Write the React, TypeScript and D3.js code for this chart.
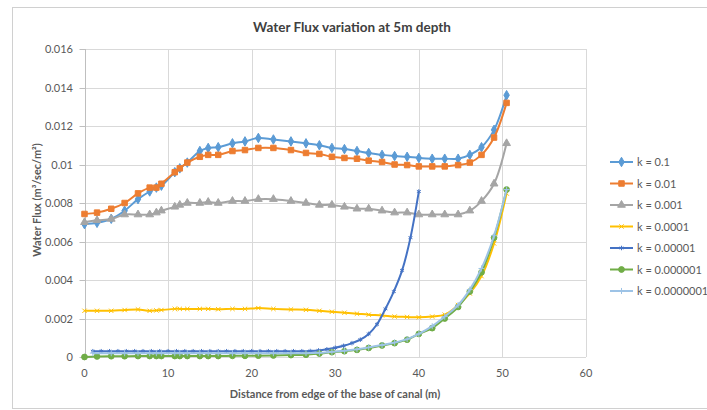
import React, { useEffect, useRef } from 'react';
import * as d3 from 'd3';

// x positions (m) of the nodes
const xMain = [0, 1.5, 3.2, 4.8, 6.4, 7.8, 8.6, 9.2, 10.8, 11.4, 12.3, 13.8, 14.8, 16, 17.7, 19.2, 20.8, 22.6, 24.7, 26.5, 28.1, 29.6, 31.1, 32.6, 34, 35.6, 37.1, 38.6, 40, 41.6, 43.1, 44.7, 46.1, 47.5, 49, 50.5];
const xDense = [1, 2, 3, 4, 5, 6, 7, 8, 9, 10, 11, 12, 13, 14, 15, 16, 17, 18, 19, 20, 21, 22, 23, 24, 25, 26, 27, 28, 29, 30, 31, 32, 33, 34, 35, 36, 37, 38, 39, 40];
const xLight = [1, 3.2, 4.8, 6.4, 7.8, 8.6, 9.2, 10.8, 11.4, 12.3, 13.8, 14.8, 16, 17.7, 19.2, 20.8, 22.6, 24.7, 26.5, 28.1, 29.6, 31.1, 32.6, 34, 35.6, 37.1, 38.6, 40, 41.6, 43.1, 44.7, 46.1, 47.5, 49, 50.5];

const k1 = [0.0069, 0.00697, 0.00718, 0.0076, 0.0082, 0.0086, 0.0088, 0.0089, 0.0096, 0.0098, 0.0101, 0.0107, 0.01086, 0.0109, 0.0111, 0.0112, 0.01138, 0.0113, 0.0112, 0.0111, 0.011, 0.01086, 0.0108, 0.0107, 0.0106, 0.0105, 0.01044, 0.0104, 0.01034, 0.0103, 0.0103, 0.0103, 0.0105, 0.0109, 0.0118, 0.0136];
const k2 = [0.00743, 0.0075, 0.0077, 0.008, 0.0085, 0.0088, 0.0088, 0.009, 0.0096, 0.0098, 0.0101, 0.0104, 0.0105, 0.0105, 0.0107, 0.01075, 0.01086, 0.01086, 0.01075, 0.0106, 0.01055, 0.0104, 0.01034, 0.0103, 0.0102, 0.01013, 0.01, 0.00997, 0.0099, 0.0099, 0.0099, 0.00997, 0.0101, 0.0105, 0.0114, 0.0132];
const k3 = [0.007, 0.0071, 0.00717, 0.0074, 0.0074, 0.0074, 0.0075, 0.0076, 0.0078, 0.0079, 0.008, 0.008, 0.00805, 0.008, 0.0081, 0.0081, 0.0082, 0.0082, 0.0081, 0.008, 0.0079, 0.0079, 0.0078, 0.0077, 0.0077, 0.0076, 0.0075, 0.0075, 0.0074, 0.0074, 0.0074, 0.0074, 0.0076, 0.0081, 0.009, 0.0111];
const k4 = [0.0024, 0.0024, 0.0024, 0.00244, 0.00247, 0.0024, 0.00242, 0.00244, 0.0025, 0.0025, 0.0025, 0.0025, 0.0025, 0.00248, 0.0025, 0.0025, 0.00254, 0.0025, 0.00247, 0.00245, 0.0024, 0.00235, 0.0023, 0.00225, 0.0022, 0.00216, 0.0021, 0.00208, 0.00206, 0.0021, 0.0022, 0.0027, 0.0033, 0.0042, 0.0059, 0.0085];
const k5 = [0.0003, 0.0003, 0.0003, 0.0003, 0.0003, 0.0003, 0.0003, 0.0003, 0.0003, 0.0003, 0.0003, 0.0003, 0.0003, 0.0003, 0.0003, 0.0003, 0.0003, 0.0003, 0.0003, 0.0003, 0.0003, 0.0003, 0.0003, 0.0003, 0.0003, 0.0003, 0.00031, 0.00034, 0.0004, 0.00048, 0.00058, 0.00072, 0.0009, 0.0012, 0.0017, 0.0025, 0.0034, 0.0045, 0.0062, 0.0086];
const k6 = [0, 0.00003, 0.00004, 0.00004, 0.00005, 0.00005, 0.00005, 0.00005, 0.00005, 0.00005, 0.00005, 0.00005, 0.00005, 0.00005, 0.00006, 0.00006, 0.00007, 0.00008, 0.0001, 0.00012, 0.00018, 0.00025, 0.0003, 0.00037, 0.00047, 0.0006, 0.00072, 0.0009, 0.0012, 0.0015, 0.002, 0.0026, 0.0034, 0.0044, 0.0062, 0.0087];
const k7 = [0.0002, 0.0002, 0.0002, 0.0002, 0.0002, 0.0002, 0.0002, 0.0002, 0.0002, 0.0002, 0.0002, 0.0002, 0.0002, 0.0002, 0.0002, 0.0002, 0.0002, 0.0002, 0.0002, 0.00022, 0.00027, 0.00032, 0.0004, 0.0005, 0.00062, 0.00075, 0.00093, 0.0012, 0.0016, 0.0021, 0.0027, 0.0035, 0.0046, 0.0063, 0.0087];

const seriesNames = ['k = 0.1', 'k = 0.01', 'k = 0.001', 'k = 0.0001', 'k = 0.00001', 'k = 0.000001', 'k = 0.0000001'];
const xTicks = [0, 10, 20, 30, 40, 50, 60];
const yTicks = [0, 0.002, 0.004, 0.006, 0.008, 0.01, 0.012, 0.014, 0.016];
const yTickLabels = ['0', '0.002', '0.004', '0.006', '0.008', '0.01', '0.012', '0.014', '0.016'];

const FONT = 'Lato, "Open Sans", sans-serif';
const TXT = '#595959';

export default function App() {
  const ref = useRef<SVGSVGElement>(null);

  useEffect(() => {
    if (!ref.current) return;
    const svg = d3.select(ref.current);
    svg.selectAll('*').remove();

    const x = d3.scaleLinear().domain([0, 60]).range([84.5, 586]);
    const y = d3.scaleLinear().domain([0, 0.016]).range([357, 49]);

    const series = [
      { name: seriesNames[0], xs: xMain, ys: k1, color: '#5B9BD5', sym: d3.symbolDiamond, size: 26, fill: true },
      { name: seriesNames[1], xs: xMain, ys: k2, color: '#ED7D31', sym: d3.symbolSquare, size: 30, fill: true },
      { name: seriesNames[2], xs: xMain, ys: k3, color: '#A5A5A5', sym: d3.symbolTriangle, size: 26, fill: true },
      { name: seriesNames[3], xs: xMain, ys: k4, color: '#FFC000', sym: d3.symbolTimes, size: 14, fill: false },
      { name: seriesNames[4], xs: xDense, ys: k5, color: '#4472C4', sym: d3.symbolAsterisk, size: 14, fill: false },
      { name: seriesNames[5], xs: xMain, ys: k6, color: '#70AD47', sym: d3.symbolCircle, size: 26, fill: true },
      { name: seriesNames[6], xs: xLight, ys: k7, color: '#9DC3E6', sym: d3.symbolPlus, size: 14, fill: false },
    ];

    // chart border
    svg.append('rect')
      .attr('x', 12.5).attr('y', 7.5)
      .attr('width', 700).attr('height', 401)
      .attr('fill', '#fff').attr('stroke', '#d0d0d0');

    // grid
    svg.append('g').selectAll('line').data(yTicks).enter().append('line')
      .attr('x1', x(0)).attr('x2', x(60))
      .attr('y1', d => Math.round(y(d)) + 0.5).attr('y2', d => Math.round(y(d)) + 0.5)
      .attr('stroke', '#d9d9d9');
    svg.append('g').selectAll('line').data(xTicks).enter().append('line')
      .attr('x1', d => Math.round(x(d)) + 0.5).attr('x2', d => Math.round(x(d)) + 0.5)
      .attr('y1', y(0.016)).attr('y2', y(0))
      .attr('stroke', '#d9d9d9');

    // y axis line + ticks
    const ax = Math.round(x(0)) + 0.5;
    svg.append('line').attr('x1', ax).attr('x2', ax).attr('y1', y(0.016)).attr('y2', y(0)).attr('stroke', '#bfbfbf');
    svg.append('g').selectAll('line').data(yTicks).enter().append('line')
      .attr('x1', ax - 6).attr('x2', ax)
      .attr('y1', d => Math.round(y(d)) + 0.5).attr('y2', d => Math.round(y(d)) + 0.5)
      .attr('stroke', '#bfbfbf');

    svg.append('g').selectAll('text').data(yTicks).enter().append('text')
      .attr('x', 73).attr('y', d => y(d) + 4)
      .attr('text-anchor', 'end')
      .attr('font-family', FONT).attr('font-size', 11).attr('fill', TXT)
      .text((d, i) => yTickLabels[i]);

    svg.append('g').selectAll('text').data(xTicks).enter().append('text')
      .attr('x', d => x(d)).attr('y', 377)
      .attr('text-anchor', 'middle')
      .attr('font-family', FONT).attr('font-size', 11).attr('fill', TXT)
      .text(d => String(d));

    // series lines
    const plot = svg.append('g');
    series.forEach(s => {
      const pts = s.xs.map((xv, i) => [x(xv), y(s.ys[i])] as [number, number]);
      const line = d3.line().curve(d3.curveCatmullRom.alpha(0.5));
      plot.append('path')
        .attr('d', line(pts))
        .attr('fill', 'none')
        .attr('stroke', s.color)
        .attr('stroke-width', 2);
      const sym = d3.symbol().type(s.sym).size(s.size);
      plot.append('g').selectAll('path').data(pts).enter().append('path')
        .attr('transform', d => `translate(${d[0]},${d[1]})`)
        .attr('d', sym())
        .attr('fill', s.fill ? s.color : 'none')
        .attr('stroke', s.color)
        .attr('stroke-width', 1);
    });

    // legend
    const lg = svg.append('g');
    series.forEach((s, i) => {
      const ly = 162 + i * 21.5;
      lg.append('line').attr('x1', 610).attr('x2', 633).attr('y1', ly).attr('y2', ly)
        .attr('stroke', s.color).attr('stroke-width', 2);
      lg.append('path')
        .attr('transform', `translate(621.5,${ly})`)
        .attr('d', d3.symbol().type(s.sym).size(s.size)())
        .attr('fill', s.fill ? s.color : 'none')
        .attr('stroke', s.color).attr('stroke-width', 1);
      lg.append('text').attr('x', 637).attr('y', ly + 4)
        .attr('font-family', FONT).attr('font-size', 11).attr('fill', TXT)
        .text(s.name);
    });

    // titles
    svg.append('text').attr('x', 352).attr('y', 32)
      .attr('text-anchor', 'middle')
      .attr('font-family', FONT).attr('font-size', 13.5).attr('font-weight', 'bold').attr('fill', '#404040')
      .text('Water Flux variation at 5m depth');

    svg.append('text').attr('x', 335).attr('y', 398)
      .attr('text-anchor', 'middle')
      .attr('font-family', FONT).attr('font-size', 11).attr('font-weight', 'bold').attr('fill', TXT)
      .text('Distance from edge of the base of canal (m)');

    svg.append('text')
      .attr('transform', 'translate(41,200) rotate(-90)')
      .attr('text-anchor', 'middle')
      .attr('font-family', FONT).attr('font-size', 11).attr('font-weight', 'bold').attr('fill', TXT)
      .text('Water Flux (m³/sec/m²)');
  }, []);

  return (
    <div style={{ position: 'absolute', left: 0, top: 0 }}>
      <svg ref={ref} width={707} height={410} style={{ display: 'block' }} />
    </div>
  );
}
